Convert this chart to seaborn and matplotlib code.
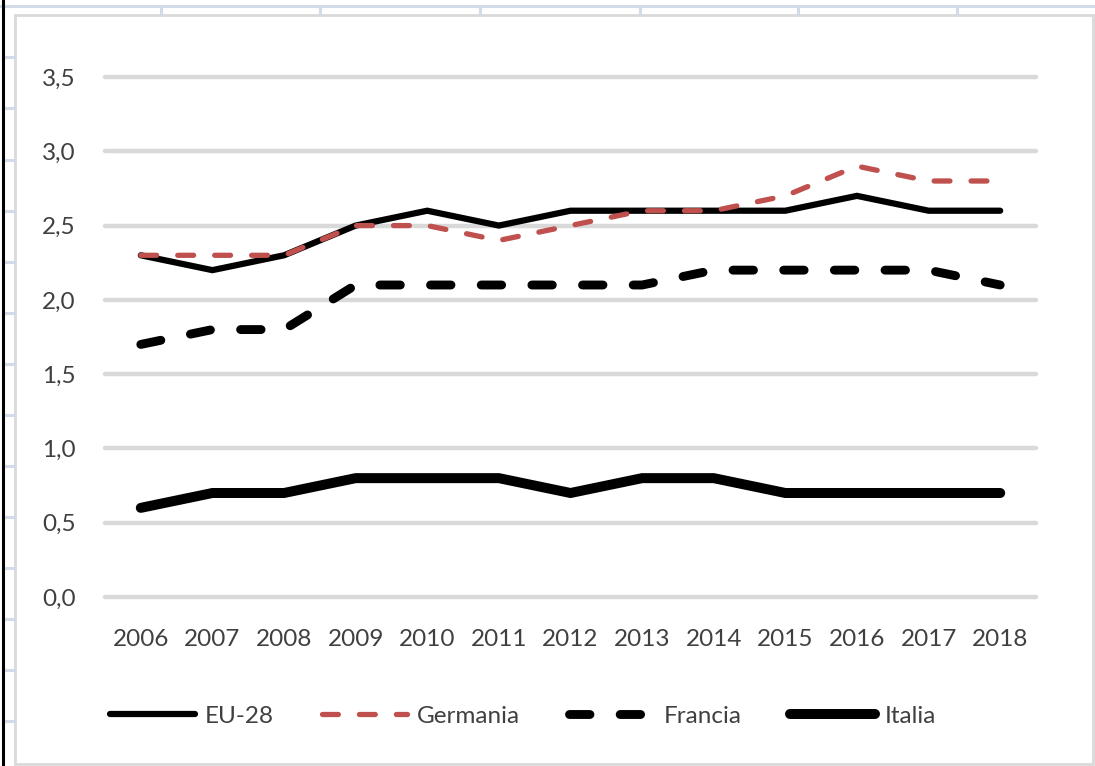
import numpy as np
import pandas as pd
import seaborn as sns
import matplotlib.pyplot as plt
from matplotlib.lines import Line2D
from matplotlib.patches import Rectangle

years = [2006, 2007, 2008, 2009, 2010, 2011, 2012, 2013, 2014, 2015, 2016, 2017, 2018]
eu28 = [2.3, 2.2, 2.3, 2.5, 2.6, 2.5, 2.6, 2.6, 2.6, 2.6, 2.7, 2.6, 2.6]
germania = [2.3, 2.3, 2.3, 2.5, 2.5, 2.4, 2.5, 2.6, 2.6, 2.7, 2.9, 2.8, 2.8]
francia = [1.7, 1.8, 1.8, 2.1, 2.1, 2.1, 2.1, 2.1, 2.2, 2.2, 2.2, 2.2, 2.1]
italia = [0.6, 0.7, 0.7, 0.8, 0.8, 0.8, 0.7, 0.8, 0.8, 0.7, 0.7, 0.7, 0.7]
yticks = [0.0, 0.5, 1.0, 1.5, 2.0, 2.5, 3.0, 3.5]

sns.set_style("white")
plt.rcParams['font.family'] = ['Lato', 'DejaVu Sans']
txt = '#404040'
fs = 17.5

df = pd.DataFrame({'Anno': years, 'EU-28': eu28, 'Germania': germania,
                   'Francia': francia, 'Italia': italia})

fig = plt.figure(figsize=(10.95, 7.66), dpi=100)

# spreadsheet background bits
W, H = 1095, 766
def fx(x): return x / W
def fy(y): return 1 - y / H
blue = '#d3dae8'
fig.add_artist(Line2D([fx(0), fx(1095)], [fy(6), fy(6)], color=blue, lw=2.2))
for xv in [161, 320, 480, 640, 798, 957]:
    fig.add_artist(Line2D([fx(xv), fx(xv)], [fy(6), fy(14)], color=blue, lw=2.2))
for yv in [57, 108, 160, 211, 262, 313, 364, 415, 466, 517, 568, 619, 670, 721]:
    fig.add_artist(Line2D([fx(3), fx(15)], [fy(yv), fy(yv)], color=blue, lw=2.2))
fig.add_artist(Line2D([fx(2.5), fx(2.5)], [0, 1], color='black', lw=2.2))
fig.add_artist(Rectangle((fx(15), fy(764)), fx(1093) - fx(15), fy(15) - fy(764),
                         fill=False, edgecolor='#d9d9d9', lw=2.0))

ax = fig.add_axes([fx(105), fy(597), fx(1036) - fx(105), fy(77) - fy(597)])

styles = {
    'EU-28': dict(color='black', lw=4.5, ls='-'),
    'Germania': dict(color='#c0504d', lw=3.8, ls=(0, (3.0, 4.0))),
    'Francia': dict(color='black', lw=6.4, ls=(0, (2.3, 3.4))),
    'Italia': dict(color='black', lw=7.2, ls='-'),
}

for name in ['EU-28', 'Germania', 'Francia', 'Italia']:
    st = styles[name]
    sns.lineplot(data=df, x='Anno', y=name, ax=ax, color=st['color'],
                 linewidth=st['lw'], linestyle=st['ls'], label=name,
                 solid_capstyle='round', dash_capstyle='round',
                 solid_joinstyle='miter', legend=False)

ax.set_xlim(2005.5, 2018.5)
ax.set_ylim(0, 3.5)
ax.set_yticks(yticks)
ax.set_yticklabels([f"{v:.1f}".replace('.', ',') for v in yticks])
ax.set_xticks(years)
ax.set_xticklabels([str(y) for y in years])
ax.tick_params(axis='both', length=0, labelsize=fs, labelcolor=txt)
ax.tick_params(axis='y', pad=21)
ax.tick_params(axis='x', pad=23)
ax.set_xlabel('')
ax.set_ylabel('')
for s in ax.spines.values():
    s.set_visible(False)
ax.yaxis.grid(True, color='#d9d9d9', lw=3.2, solid_capstyle='round')
ax.set_axisbelow(True)
for gl in ax.get_ygridlines():
    gl.set_clip_on(False)

handles = [Line2D([0], [0], color=styles[n]['color'], lw=styles[n]['lw'],
                  ls=styles[n]['ls'], solid_capstyle='round', dash_capstyle='round')
           for n in ['EU-28', 'Germania', 'Francia', 'Italia']]
leg = fig.legend(handles, ['EU-28', 'Germania', 'Francia', 'Italia'],
                 loc='center left', bbox_to_anchor=(fx(110), fy(716)), ncol=4,
                 frameon=False, fontsize=fs, handlelength=3.5, handletextpad=0.4,
                 columnspacing=2.0, borderpad=0, borderaxespad=0)
for t in leg.get_texts():
    t.set_color(txt)

fig.savefig('out.png', dpi=100)
